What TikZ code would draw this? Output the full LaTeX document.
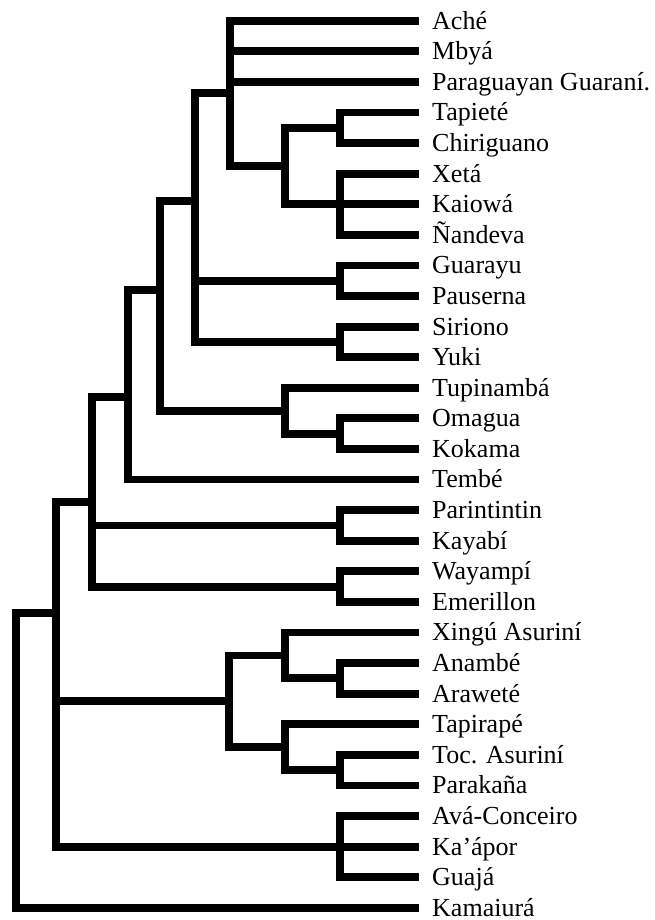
\documentclass[tikz,border=0pt]{standalone}
\usepackage{fontspec}
\setmainfont{Liberation Serif}
\begin{document}
\begin{tikzpicture}[x=1pt,y=-30.59pt,
  br/.style={draw=black,line width=7.8pt,line join=miter,line cap=butt},
  lab/.style={anchor=base west,inner sep=0pt,text depth=0pt,yshift=-8.4pt,font=\fontsize{26}{30}\selectfont}]
\useasboundingbox (0pt,0pt) rectangle (655pt,-920pt);
\begin{scope}[yshift=-20.7pt]
% leaf ends and labels
\foreach \k/\t in {0/Aché,1/Mbyá,2/Paraguayan Guaraní.,3/Tapieté,4/Chiriguano,5/Xetá,6/Kaiowá,7/Ñandeva,8/Guarayu,9/Pauserna,10/Siriono,11/Yuki,12/Tupinambá,13/Omagua,14/Kokama,15/Tembé,16/Parintintin,17/Kayabí,18/Wayampí,19/Emerillon,20/Xingú Asuriní,21/Anambé,22/Araweté,23/Tapirapé,24/Toc. Asuriní,25/Parakaña,26/Avá-Conceiro,27/Ka’ápor,28/Guajá,29/Kamaiurá}{
  \coordinate (e\k) at (419,\k);
  \node[lab] (l\k) at (432,\k) {\t};
}
% internal nodes
\coordinate (nTC)  at (340,3.5);
\coordinate (nXKN) at (340,6);
\coordinate (nGP)  at (340,8.5);
\coordinate (nSY)  at (340,10.5);
\coordinate (nOK)  at (340,13.5);
\coordinate (nPK)  at (340,16.5);
\coordinate (nWE)  at (340,18.5);
\coordinate (nAA)  at (340,21.5);
\coordinate (nTP)  at (340,24.5);
\coordinate (nAKG) at (340,27);
\coordinate (nG)   at (285,4.75);
\coordinate (nTOK) at (285,12.75);
\coordinate (nXAA) at (285,20.75);
\coordinate (nTTP) at (285,23.75);
\coordinate (nF)   at (230,2.375);
\coordinate (nM)   at (229,22.25);
\coordinate (nE)   at (195,5.894);
\coordinate (nD)   at (160,8.803);
\coordinate (nC)   at (128,12.302);
\coordinate (nB)   at (92,15.734);
\coordinate (nA)   at (56,19.362);
\coordinate (nR)   at (16,24);
% connectors
\foreach \p/\c in {nTC/e3,nTC/e4,nXKN/e5,nXKN/e6,nXKN/e7,nGP/e8,nGP/e9,nSY/e10,nSY/e11,
  nOK/e13,nOK/e14,nPK/e16,nPK/e17,nWE/e18,nWE/e19,nAA/e21,nAA/e22,nTP/e24,nTP/e25,
  nAKG/e26,nAKG/e27,nAKG/e28,
  nG/nTC,nG/nXKN,nTOK/e12,nTOK/nOK,nXAA/e20,nXAA/nAA,nTTP/e23,nTTP/nTP,
  nF/e0,nF/e1,nF/e2,nF/nG,nM/nXAA,nM/nTTP,
  nE/nF,nE/nGP,nE/nSY,nD/nE,nD/nTOK,nC/nD,nC/e15,
  nB/nC,nB/nPK,nB/nWE,nA/nB,nA/nM,nA/nAKG,nR/nA,nR/e29}{
  \draw[br] (\p) |- (\c);
}
\end{scope}
\end{tikzpicture}
\end{document}
